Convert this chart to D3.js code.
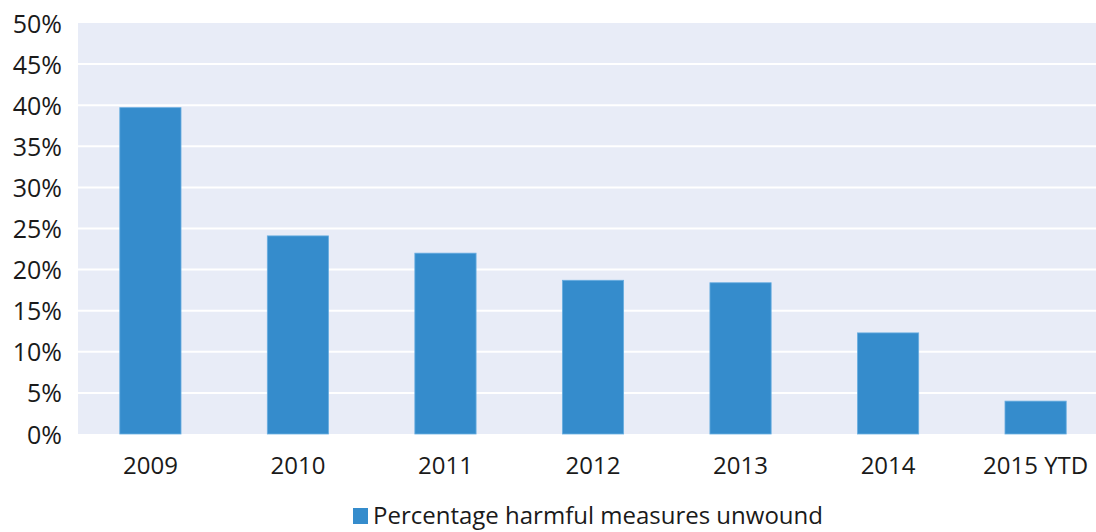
<!DOCTYPE html>
<html>
<head>
<meta charset="utf-8">
<script src="https://cdn.jsdelivr.net/npm/d3@7"></script>
<style>
  body { margin: 0; background: #fff; }
  text { font-family: "Open Sans", "Noto Sans", sans-serif; fill: #1a1a1a; }
</style>
</head>
<body>
<script>
const categories = ["2009", "2010", "2011", "2012", "2013", "2014", "2015 YTD"]
const values = [39.7, 24.1, 22.0, 18.7, 18.4, 12.3, 4.0]
const yTicks = [0, 5, 10, 15, 20, 25, 30, 35, 40, 45, 50]
const seriesName = "Percentage harmful measures unwound"

const w = 1096
const h = 532
const plot = { left: 78, right: 1109, top: 23, bottom: 434 }

const svg = d3.select("body")
  .append("svg")
  .attr("width", w)
  .attr("height", h)

// scales
const x = d3.scaleBand()
  .domain(categories)
  .range([plot.left - 1, plot.right])
  .paddingInner(0.585)
  .paddingOuter(0.29)

const y = d3.scaleLinear()
  .domain([0, 50])
  .range([plot.bottom, plot.top])

// background
svg.append("rect")
  .attr("x", plot.left)
  .attr("y", plot.top)
  .attr("width", w - plot.left)
  .attr("height", plot.bottom - plot.top)
  .attr("fill", "#e8ecf7")

// gridlines
svg.append("g")
  .selectAll("line")
  .data(yTicks.filter(t => t > 0 && t < 50))
  .enter()
  .append("line")
  .attr("x1", plot.left)
  .attr("x2", w)
  .attr("y1", d => y(d))
  .attr("y2", d => y(d))
  .attr("stroke", "#fff")
  .attr("stroke-width", 2)

// bars
svg.append("g")
  .selectAll("rect")
  .data(values)
  .enter()
  .append("rect")
  .attr("x", (d, i) => x(categories[i]))
  .attr("y", d => y(d))
  .attr("width", x.bandwidth())
  .attr("height", d => y(0) - y(d))
  .attr("fill", "#358ccc")
  .attr("stroke", "#6aaee0")
  .attr("stroke-width", 0.8)

// y axis
const yAxis = d3.axisLeft(y)
  .tickValues(yTicks)
  .tickFormat(t => t + "%")
  .tickSize(0)
  .tickPadding(0)

svg.append("g")
  .attr("transform", "translate(62,0)")
  .call(yAxis)
  .call(g => g.select(".domain").remove())
  .selectAll("text")
  .attr("font-size", 25)
  .attr("dy", "0.36em")

// x axis
const xAxis = d3.axisBottom(x).tickSize(0).tickPadding(0)

svg.append("g")
  .attr("transform", "translate(0," + plot.bottom + ")")
  .call(xAxis)
  .call(g => g.select(".domain").remove())
  .selectAll("text")
  .attr("font-size", 24)
  .attr("dy", "0")
  .attr("y", 40)

// legend
const legend = svg.append("g").attr("id", "legend")

legend.append("rect")
  .attr("x", 353)
  .attr("y", 508)
  .attr("width", 15)
  .attr("height", 16)
  .attr("fill", "#358ccc")

legend.append("text")
  .attr("x", 373)
  .attr("y", 524)
  .attr("font-size", 24)
  .text(seriesName)
</script>
</body>
</html>
